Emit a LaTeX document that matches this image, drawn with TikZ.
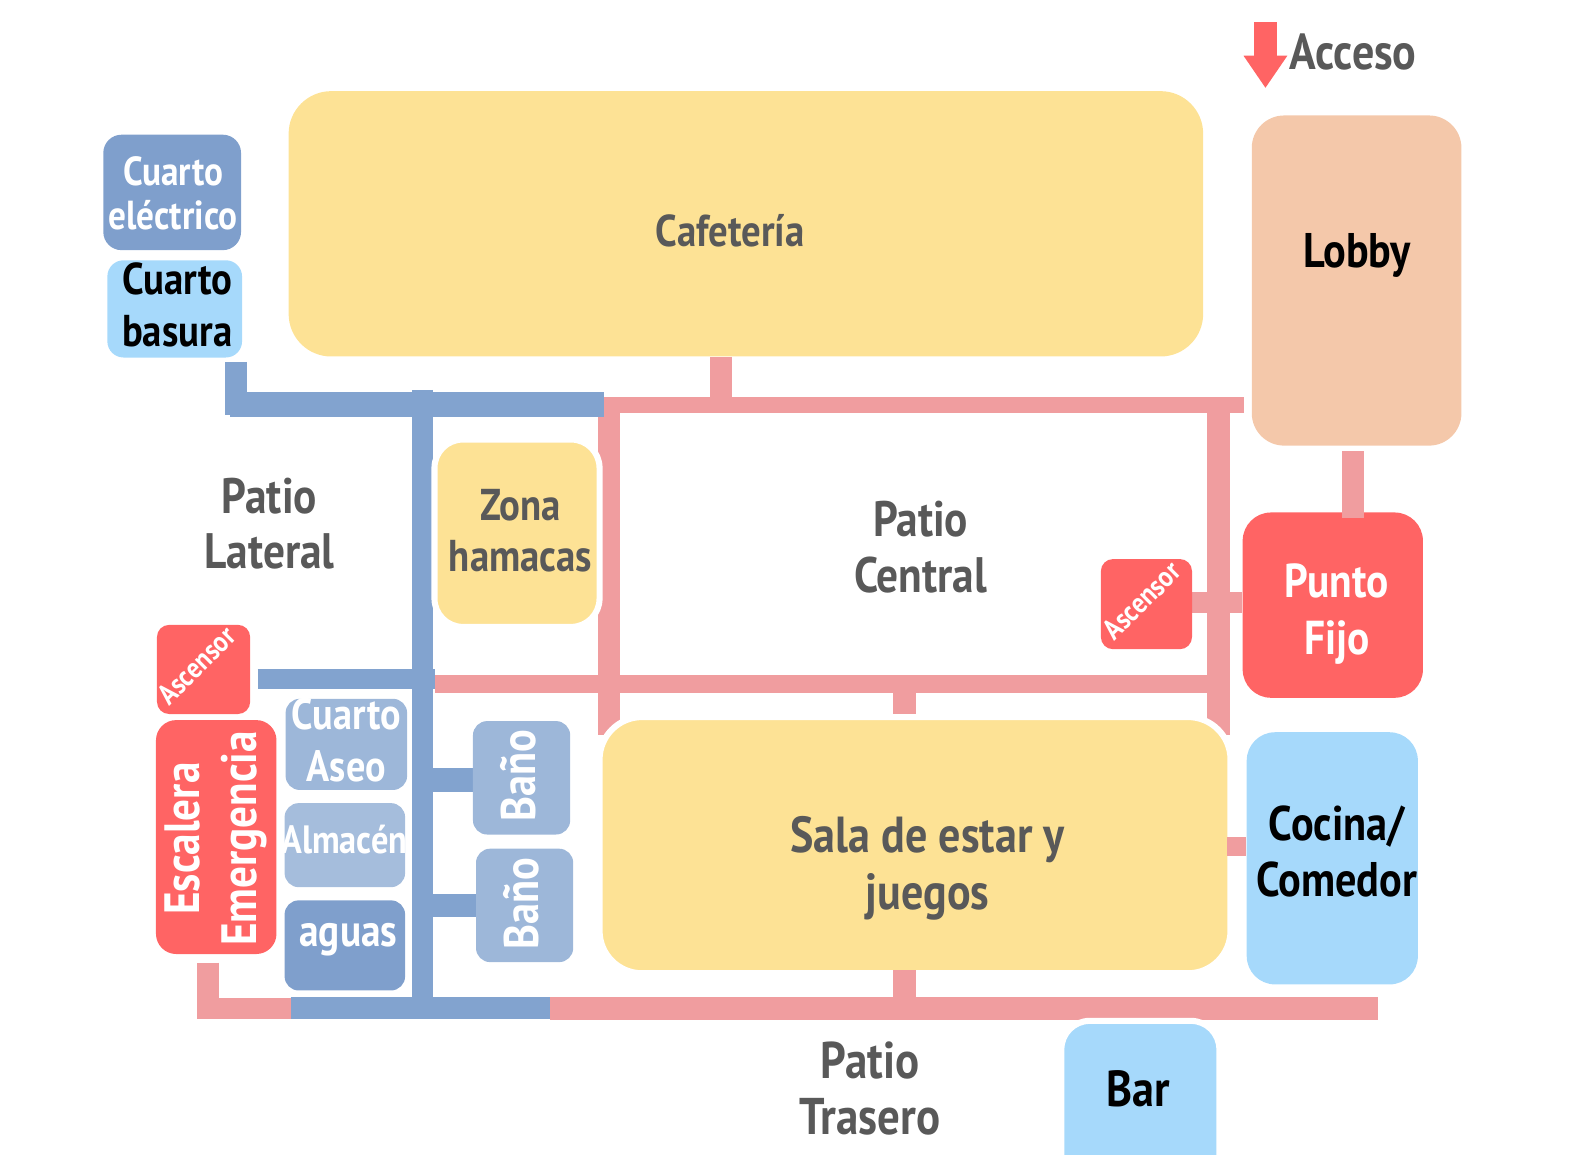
\documentclass[tikz,border=0pt]{standalone}
\usepackage{fontspec}
\setmainfont[FakeStretch=0.87]{PT Sans}
\usetikzlibrary{fit,backgrounds,arrows.meta}
\definecolor{cafeYellow}{HTML}{FDE295}
\definecolor{lobbyPeach}{HTML}{F4C8AA}
\definecolor{fixRed}{HTML}{FF6464}
\definecolor{skyBlue}{HTML}{A6D9FB}
\definecolor{servBlue}{HTML}{7F9FCC}
\definecolor{paleBlue}{HTML}{9DB7D9}
\definecolor{barPink}{HTML}{F09D9F}
\definecolor{barBlue}{HTML}{82A3CF}
\definecolor{labelGray}{HTML}{595959}
\tikzset{
  room/.style={fill=#1,inner sep=0pt,rounded corners=14pt},
  halo/.style={draw=white,line width=3pt},
  lbl/.style 2 args={align=center,inner sep=0pt,font=\bfseries\fontsize{#1}{#2}\selectfont},
  pinkbar/.style={draw=barPink,line width=#1},
  bluebar/.style={draw=barBlue,line width=#1},
}
\begin{document}
\begin{tikzpicture}[x=.5pt,y=-.5pt]
    \useasboundingbox (0,0) rectangle (1568,1140);
    % rooms
    \node[room=servBlue,rounded corners=9pt,fit={(102,133) (238,247)}] (electrico) {};
    \node[room=skyBlue,rounded corners=8pt,fit={(106,257) (239,353)}] (basura) {};
    \node[room=cafeYellow,rounded corners=21pt,fit={(285,90) (1188,352)}] (cafeteria) {};
    \node[room=lobbyPeach,rounded corners=16pt,fit={(1236,114) (1443,440)}] (lobby) {};
    \node[room=fixRed,fit={(1227,506) (1405,689)}] (puntoFijo) {};
    \node[room=fixRed,rounded corners=6pt,fit={(1087,552) (1177,641)}] (ascensorR) {};
    \node[room=fixRed,rounded corners=6pt,fit={(155,617) (247,705)}] (ascensorL) {};
    \node[room=fixRed,rounded corners=10pt,fit={(154,711) (273,942)}] (escalera) {};
    \node[room=paleBlue,rounded corners=7pt,fit={(282,690) (402,780)}] (aseo) {};
    \node[room=paleBlue!92!white,rounded corners=7pt,fit={(281,793) (400,876)}] (almacen) {};
    \node[room=servBlue,rounded corners=7pt,fit={(281,889) (400,978)}] (aguas) {};
    \node[room=paleBlue,rounded corners=7pt,fit={(467,712) (563,824)}] (banoA) {};
    \node[room=paleBlue,rounded corners=7pt,fit={(470,838) (566,950)}] (banoB) {};
    \node[room=cafeYellow,halo,fit={(429,434) (592,619)}] (hamacas) {};
    \node[room=cafeYellow,halo,rounded corners=21pt,fit={(592,708) (1215,961)}] (sala) {};
    \node[room=skyBlue,fit={(1231,723) (1400,972)}] (cocina) {};
    \node[room=skyBlue,halo,fit={(1048,1008) (1204,1200)}] (bar) {};
    % junctions
    \coordinate (blueW) at (227,399.5);
    \coordinate (blueE) at (596,399.5);
    \coordinate (basuraDrop) at (233,410);
    \coordinate (trunkTop) at (417.5,385);
    \coordinate (trunkBot) at (417.5,995);
    \coordinate (trunkLift) at (430,670.5);
    \coordinate (banoAJoin) at (417.5,770);
    \coordinate (banoBJoin) at (417.5,894);
    \coordinate (blueBotW) at (287,995.5);
    \coordinate (blueBotE) at (543,995.5);
    \coordinate (pinkTopW) at (596,400);
    \coordinate (pinkTopE) at (1228,400);
    \coordinate (cafeJoin) at (712,400);
    \coordinate (leftTop) at (601,400);
    \coordinate (leftBot) at (601,726);
    \coordinate (rightTop) at (1203,400);
    \coordinate (rightBot) at (1203,726);
    \coordinate (midW) at (430,675);
    \coordinate (midE) at (1203,675);
    \coordinate (midJoin) at (893,675);
    \coordinate (liftJoin) at (1200,595);
    \coordinate (cocinaJoin) at (1220,836);
    \coordinate (botW) at (543,996);
    \coordinate (botE) at (1361,996);
    \coordinate (botJoin) at (893,996);
    \coordinate (stairBend) at (205.5,995.5);
    \coordinate (lobbyJoin) at (1336,478);
    \coordinate (accesoTop) at (1249.5,22);
    \coordinate (accesoTip) at (1249.5,87);
    % connectors
    \begin{scope}[on background layer]
        \draw[pinkbar=8pt] (pinkTopW)--(pinkTopE);
        \draw[pinkbar=11pt] (cafeteria.south -| cafeJoin)--(cafeJoin);
        \draw[pinkbar=11pt] (leftTop)--(leftBot);
        \draw[pinkbar=11.5pt] (rightTop)--(rightBot);
        \draw[pinkbar=9pt] (midW)--(midE);
        \draw[pinkbar=11pt] (sala.north -| midJoin)--(midJoin);
        \draw[pinkbar=10pt] (ascensorR.east |- liftJoin)--(puntoFijo.west |- liftJoin);
        \draw[pinkbar=11.5pt] (botW)--(botE);
        \draw[pinkbar=10.5pt,shorten <=4pt] (escalera.south -| stairBend)--(stairBend)--(blueBotW);
        \draw[bluebar=12.5pt] (blueW)--(blueE);
        \draw[bluebar=11pt,shorten <=2pt] (basura.south -| basuraDrop)--(basuraDrop);
        \draw[bluebar=10.5pt] (trunkTop)--(trunkBot);
        \draw[bluebar=10pt,shorten <=3.5pt] (ascensorL.east |- trunkLift)--(trunkLift);
        \draw[bluebar=12pt] (banoAJoin)--(banoA.west |- banoAJoin);
        \draw[bluebar=11.5pt] (banoBJoin)--(banoB.west |- banoBJoin);
        \draw[bluebar=11pt] (blueBotW)--(blueBotE);
    \end{scope}
    \draw[pinkbar=10.5pt,shorten <=2.5pt,shorten >=-3pt] (lobby.south -| lobbyJoin)--(puntoFijo.north -| lobbyJoin);
    \draw[pinkbar=11pt,shorten <=-3pt] (sala.south -| botJoin)--(botJoin);
    \draw[pinkbar=9.5pt,shorten <=-3pt] (sala.east |- cocinaJoin)--(cocina.west |- cocinaJoin);
    \draw[draw=fixRed,line width=11.5pt,-{Triangle[length=16pt,width=20.5pt]}] (accesoTop)--(accesoTip);
    % labels
    \node[lbl={20}{22},text=white] (electricoTxt) at (171,191) {Cuarto\\eléctrico};
    \node[lbl={22}{25.5}] (basuraTxt) at (175,301) {Cuarto\\basura};
    \node[lbl={22}{27},text=labelGray] (cafeteriaTxt) at (721,228) {Cafetería};
    \node[lbl={24}{27}] (lobbyTxt) at (1340,252) {Lobby};
    \node[lbl={23.5}{28},text=white] (puntoFijoTxt) at (1320,606) {Punto\\Fijo};
    \node[lbl={14.3}{15},text=white,rotate=45] (ascensorRTxt) at (1127,593) {Ascensor};
    \node[lbl={14.3}{15},text=white,rotate=45] (ascensorLTxt) at (194,657) {Ascensor};
    \node[lbl={24.5}{28},text=white,rotate=90] (escaleraTxt) at (213,828) {Escalera\\Emergencia};
    \node[lbl={21.7}{25.5},text=white] (aseoTxt) at (342,731) {Cuarto\\Aseo};
    \node[lbl={19.5}{25},text=white] (almacenTxt) at (340,829) {Almacén};
    \node[lbl={22.3}{25},text=white] (aguasTxt) at (344,928) {aguas};
    \node[lbl={24}{25},text=white,rotate=90] (banoATxt) at (512,766) {Baño};
    \node[lbl={24}{25},text=white,rotate=90] (banoBTxt) at (515,892) {Baño};
    \node[lbl={22}{25.5},text=labelGray] (hamacasTxt) at (514,524) {Zona\\hamacas};
    \node[lbl={25}{28},text=labelGray] (salaTxt) at (916,857) {Sala de estar y\\juegos};
    \node[lbl={24}{27.5}] (cocinaTxt) at (1320,841) {Cocina/\\Comedor};
    \node[lbl={25}{27}] (barTxt) at (1124,1075) {Bar};
    \node[lbl={24.6}{27.5},text=labelGray] (lateralTxt) at (266,517) {Patio\\Lateral};
    \node[lbl={24.6}{27.5},text=labelGray] (centralTxt) at (909,540) {Patio\\Central};
    \node[lbl={25.5}{27.5},text=labelGray] (traseroTxt) at (859,1075) {Patio\\Trasero};
    \node[lbl={25}{26},text=labelGray] (accesoTxt) at (1336,51) {Acceso};
\end{tikzpicture}
\end{document}
